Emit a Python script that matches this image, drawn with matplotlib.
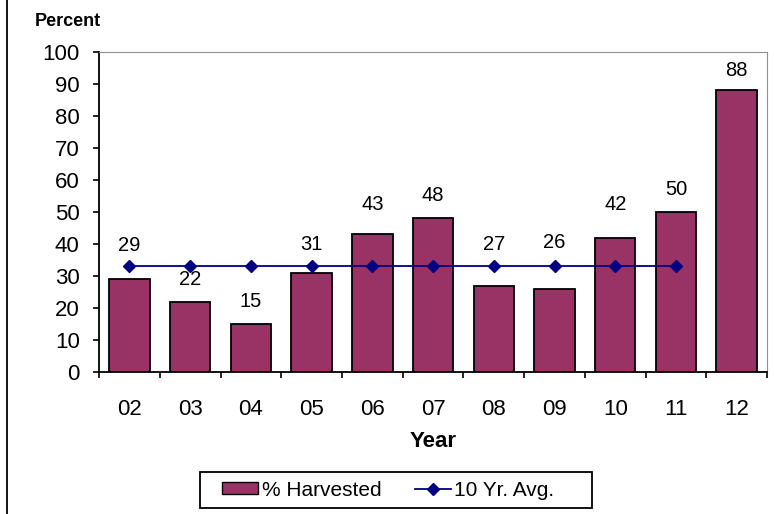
import matplotlib.pyplot as plt
from matplotlib.patches import Patch, Rectangle
from matplotlib.lines import Line2D

plt.rcParams['font.family'] = ['Liberation Sans', 'DejaVu Sans']

# data
years = ['02', '03', '04', '05', '06', '07', '08', '09', '10', '11', '12']
harvested = [29, 22, 15, 31, 43, 48, 27, 26, 42, 50, 88]
avg_years = ['02', '03', '04', '05', '06', '07', '08', '09', '10', '11']
avg_values = [33, 33, 33, 33, 33, 33, 33, 33, 33, 33]

# labels were nudged by hand in the original to stay clear of the line
label_lift = [10.6, 6.9, 7.2, 9.0, 9.4, 7.2, 13.0, 14.6, 10.5, 6.9, 6.3]

bar_color = '#993366'
line_color = '#000080'

fig = plt.figure(figsize=(7.74, 5.14), dpi=100)
ax = fig.add_axes([0.128, 0.276, 0.863, 0.623])

x = list(range(len(years)))
ax.bar(x, harvested, width=0.667, color=bar_color, edgecolor='black', linewidth=1.3, zorder=2)
xa = [years.index(y) for y in avg_years]
ax.plot(xa, avg_values, color=line_color, marker='D', markersize=6, linewidth=1.3, zorder=3)

for i, v in enumerate(harvested):
    ax.text(i, v + label_lift[i], str(v), ha='center', va='center', fontsize=14.5)

ax.set_xlim(-0.5, len(years) - 0.5)
ax.set_ylim(0, 100)
ax.set_yticks(range(0, 101, 10))
ax.set_xticks(x)
ax.set_xticklabels(years)
ax.set_xticks([i - 0.5 for i in range(len(years) + 1)], minor=True)
ax.tick_params(axis='x', which='major', length=0, labelsize=16, pad=19)
ax.tick_params(axis='x', which='minor', length=4, width=1.2, direction='out')
ax.tick_params(axis='y', labelsize=16, length=4, width=1.2, direction='out', pad=10)
ax.set_xlabel('Year', fontsize=16, fontweight='bold', labelpad=8)

ax.spines['left'].set_color('black')
ax.spines['bottom'].set_color('black')
ax.spines['left'].set_linewidth(1.3)
ax.spines['bottom'].set_linewidth(1.3)
ax.spines['top'].set_color('#909090')
ax.spines['right'].set_color('#909090')

fig.text(35 / 774, 1 - 21 / 514, 'Percent', fontsize=13, fontweight='bold', va='center', ha='left')

# legend box drawn separately so its padding matches the original
fig.add_artist(Rectangle((200 / 774, 1 - 508 / 514), 392 / 774, 36 / 514, transform=fig.transFigure,
                         facecolor='white', edgecolor='black', linewidth=1.3))
handles = [Patch(facecolor=bar_color, edgecolor='black', linewidth=1),
           Line2D([0], [0], color=line_color, marker='D', markersize=6, linewidth=1.3)]
leg = fig.legend(handles, ['% Harvested', '10 Yr. Avg.'], loc='center left',
                 bbox_to_anchor=(222 / 774, 1 - 490 / 514),
                 ncol=2, fontsize=15, frameon=False,
                 handlelength=1.75, handleheight=0.55, handletextpad=0.15, columnspacing=1.6,
                 borderpad=0, borderaxespad=0)

# left border of the chart area
fig.add_artist(Line2D([7 / 774, 7 / 774], [0, 1], color='black', linewidth=1.3, transform=fig.transFigure))

fig.savefig('out.png', dpi=100)
